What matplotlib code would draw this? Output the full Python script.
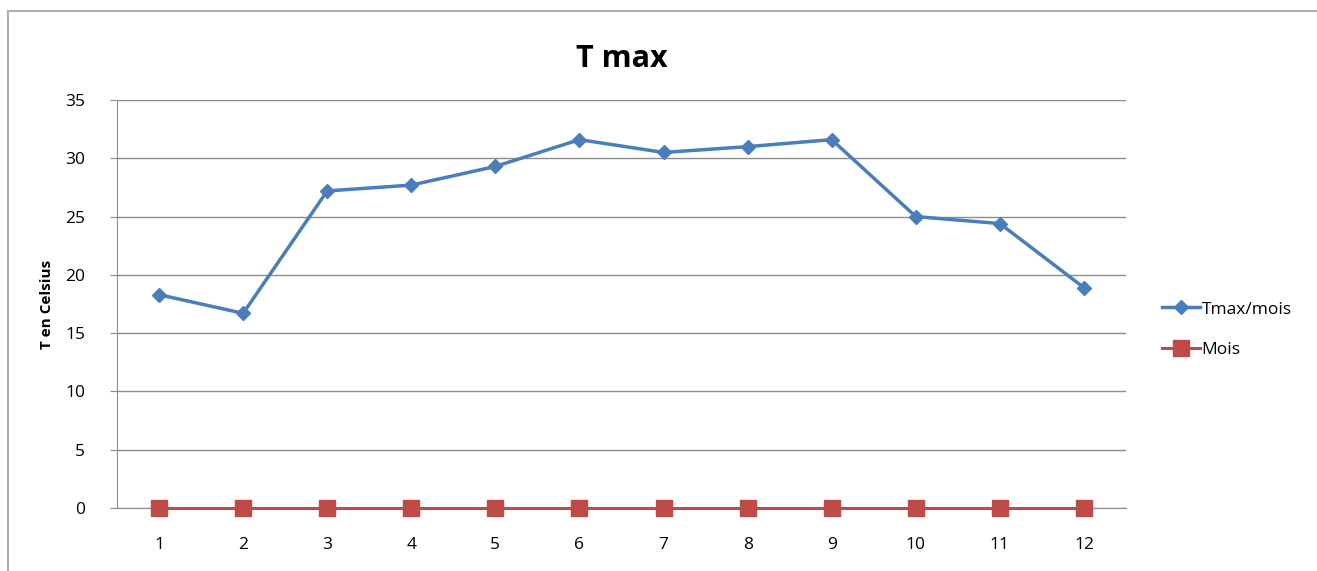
import matplotlib.pyplot as plt
from matplotlib.patches import Rectangle

plt.rcParams['font.family'] = ['Open Sans', 'DejaVu Sans']

mois = [1, 2, 3, 4, 5, 6, 7, 8, 9, 10, 11, 12]
tmax = [18.3, 16.7, 27.2, 27.7, 29.3, 31.6, 30.5, 31.0, 31.6, 25.0, 24.4, 18.9]
serie_mois = [0, 0, 0, 0, 0, 0, 0, 0, 0, 0, 0, 0]
yticks = [0, 5, 10, 15, 20, 25, 30, 35]

fig = plt.figure(figsize=(13.17, 5.71), dpi=100)
fig.patches.append(Rectangle((8/1317, -0.1), 1.2, 1 - 11/571 + 0.1,
                             transform=fig.transFigure, fill=False,
                             edgecolor='#b0b0b0', linewidth=1.5))
ax = fig.add_axes([117/1317, 63/571, 1009/1317, 408/571])

ax.plot(mois, tmax, color='#4a7ebb', linewidth=2.5, marker='D', markersize=7,
        label='Tmax/mois', clip_on=False, zorder=4)
ax.plot(mois, serie_mois, color='#be4b48', linewidth=2.2, marker='s', markersize=11,
        label='Mois', clip_on=False, zorder=4)

ax.set_xlim(0.5, 12.5)
ax.set_ylim(0, 35)
ax.set_yticks(yticks)
ax.set_xticks(mois)
ax.yaxis.grid(True, color='#8c8c8c', linewidth=1)
ax.set_axisbelow(True)
for s in ['top', 'right']:
    ax.spines[s].set_visible(False)
ax.spines['left'].set_color('#8c8c8c')
ax.spines['bottom'].set_color('#8c8c8c')
ax.tick_params(axis='y', length=5, color='#8c8c8c', labelsize=12.5, pad=18)
ax.tick_params(axis='x', length=0, labelsize=12.5, pad=21)

ax.set_title('T max', fontsize=22, fontweight='bold', pad=24)
ax.set_ylabel('T en Celsius', fontsize=11, fontweight='bold', labelpad=8)

ax.legend(loc='center left', bbox_to_anchor=(1.02, 0.437), frameon=False,
          fontsize=12.5, handlelength=2.2, handletextpad=0.1, labelspacing=1.4)

plt.savefig('out.png')
